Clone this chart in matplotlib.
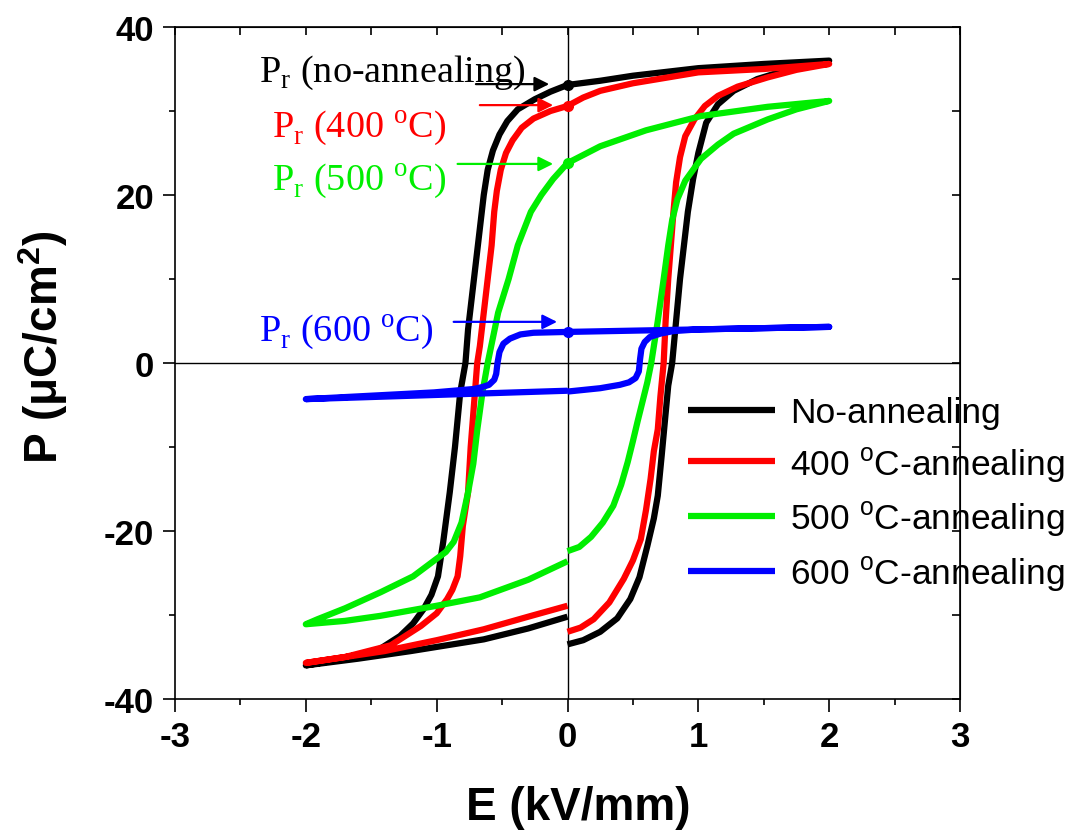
import matplotlib
matplotlib.use("Agg")
import matplotlib.pyplot as plt
from matplotlib.ticker import MultipleLocator

plt.rcParams['font.family'] = ['Liberation Sans', 'DejaVu Sans']
plt.rcParams['axes.unicode_minus'] = False

# loops recorded as: 0 -> +Emax -> -Emax -> 0  (E in kV/mm, P in uC/cm2)
E_none = [0.0, 0.12, 0.25, 0.38, 0.48, 0.55, 0.61, 0.66, 0.69, 0.72, 0.75, 0.77, 0.80, 0.83, 0.86,
          0.89, 0.92, 0.96, 1.0, 1.06, 1.15, 1.27, 1.45, 1.7, 2.0,
          1.5, 1.0, 0.5, 0.25, 0.0, -0.13, -0.25, -0.38, -0.46, -0.52, -0.57, -0.61, -0.64, -0.67,
          -0.70, -0.73, -0.76, -0.78, -0.82, -0.86, -0.9, -0.95, -0.99, -1.04, -1.1, -1.18, -1.28,
          -1.43, -1.7, -2.0,
          -1.6, -1.2, -0.64, -0.3, 0.0]
P_none = [-33.5, -33.0, -32.0, -30.4, -28.1, -25.5, -21.8, -18.5, -15.8, -11.0, -6.0, -2.7, 0.0, 5.0, 10.0,
          14.0, 18.0, 21.9, 25.0, 28.6, 30.8, 32.4, 33.8, 35.0, 36.0,
          35.6, 35.1, 34.2, 33.6, 33.1, 32.3, 31.4, 30.2, 28.8, 27.2, 25.3, 23.0, 20.0, 16.0,
          12.0, 8.0, 4.0, 0.0, -3.5, -10.0, -15.4, -21.3, -25.4, -27.6, -29.3, -31.0, -32.5,
          -34.0, -35.2, -36.0,
          -35.2, -34.3, -32.9, -31.6, -30.2]

E_400 = [0.0, 0.1, 0.2, 0.32, 0.43, 0.5, 0.56, 0.6, 0.635, 0.66, 0.69, 0.71, 0.735, 0.75, 0.77,
         0.79, 0.81, 0.83, 0.86, 0.9, 0.97, 1.05, 1.15, 1.3, 1.53, 1.75, 2.0,
         1.5, 1.0, 0.5, 0.25, 0.12, 0.0, -0.13, -0.26, -0.35, -0.42, -0.47, -0.51, -0.54, -0.56,
         -0.58, -0.61, -0.64, -0.67, -0.69, -0.71, -0.74, -0.76, -0.8, -0.82, -0.84, -0.88, -0.92,
         -1.0, -1.12, -1.35, -1.7, -2.0,
         -1.4, -1.0, -0.64, -0.3, 0.0]
P_400 = [-32.0, -31.5, -30.5, -28.5, -25.7, -23.5, -21.0, -17.5, -13.8, -10.5, -7.9, -4.0, 0.0, 5.0, 10.0,
         14.0, 18.0, 21.5, 24.5, 27.0, 29.0, 30.6, 31.8, 32.9, 34.0, 34.9, 35.6,
         35.0, 34.6, 33.3, 32.4, 31.6, 30.6, 30.0, 29.1, 28.0, 26.5, 25.0, 23.0, 20.5, 18.0,
         14.0, 10.0, 6.0, 2.0, 0.0, -4.0, -10.0, -15.4, -19.4, -23.0, -25.4, -27.0, -28.1,
         -29.8, -31.3, -33.6, -35.0, -35.7,
         -34.3, -33.0, -31.7, -30.2, -28.9]

E_500 = [0.0, 0.09, 0.18, 0.27, 0.35, 0.41, 0.46, 0.5, 0.535, 0.575, 0.61, 0.64, 0.69, 0.735,
         0.77, 0.8, 0.84, 0.9, 1.02, 1.15, 1.27, 1.53, 1.75, 2.0,
         1.53, 1.02, 0.6, 0.25, 0.0, -0.11, -0.2, -0.28, -0.38, -0.45, -0.53, -0.57, -0.61, -0.65,
         -0.69, -0.72, -0.76, -0.81, -0.87, -0.93, -1.0, -1.18, -1.43, -1.7, -1.91, -2.0,
         -1.7, -1.43, -1.0, -0.67, -0.3, 0.0]
P_500 = [-22.4, -21.9, -20.7, -19.0, -17.0, -14.5, -11.8, -9.3, -7.0, -4.5, -2.3, 0.0, 5.0, 10.0,
         14.0, 17.0, 19.5, 21.7, 24.3, 26.0, 27.3, 29.0, 30.2, 31.2,
         30.5, 29.4, 27.7, 25.8, 23.8, 21.9, 20.0, 18.0, 14.0, 10.0, 6.0, 3.0, 0.0, -3.5,
         -8.0, -12.0, -15.4, -19.0, -21.3, -22.5, -23.3, -25.4, -27.3, -29.2, -30.5, -31.1,
         -30.7, -30.1, -28.9, -27.9, -25.8, -23.6]

E_600 = [0.0, 0.25, 0.4, 0.47, 0.52, 0.545, 0.555, 0.565, 0.59, 0.63, 0.71, 0.81, 1.0, 2.0,
         1.0, 0.0, -0.26, -0.36, -0.44, -0.49, -0.52, -0.535, -0.545, -0.56, -0.6, -0.66, -0.72,
         -1.02, -2.0,
         -1.0, 0.0]
P_600 = [-3.4, -3.0, -2.6, -2.3, -1.8, -1.0, 0.5, 1.7, 2.5, 3.1, 3.5, 3.8, 4.0, 4.3,
         4.0, 3.7, 3.6, 3.4, 2.9, 2.3, 1.3, 0.0, -1.3, -2.0, -2.6, -2.9, -3.1,
         -3.5, -4.3,
         -3.8, -3.3]

labels = ['No-annealing', '400 $^\\mathregular{o}$C-annealing',
          '500 $^\\mathregular{o}$C-annealing', '600 $^\\mathregular{o}$C-annealing']
colors = ['black', '#ff0000', '#00ee00', '#0000ff']
Pr = [33.1, 30.6, 23.8, 3.7]
pr_text = ['P$_\\mathregular{r}$ (no-annealing)', 'P$_\\mathregular{r}$ (400 $^\\mathregular{o}$C)',
           'P$_\\mathregular{r}$ (500 $^\\mathregular{o}$C)', 'P$_\\mathregular{r}$ (600 $^\\mathregular{o}$C)']
text_xy = [(-2.36, 33.6), (-2.26, 27.0), (-2.26, 20.7), (-2.36, 2.7)]
arrow_from = [(-0.70, 33.2), (-0.67, 30.7), (-0.84, 23.7), (-0.87, 4.9)]
arrow_to = [(-0.14, 33.2), (-0.11, 30.7), (-0.11, 23.7), (-0.08, 4.9)]

fig = plt.figure(figsize=(10.72, 8.37), dpi=100)
ax = fig.add_axes([175/1072, 1-700/837, (960-175)/1072, (700-28)/837])

ax.axhline(0, color='k', lw=1, zorder=1)
ax.axvline(0, color='k', lw=1, zorder=1)

data = [(E_none, P_none), (E_400, P_400), (E_500, P_500), (E_600, P_600)]
for (e, p), c, lab in zip(data, colors, labels):
    ax.plot(e, p, color=c, lw=4.5, label=lab, zorder=2,
            solid_capstyle='butt', solid_joinstyle='round')

for i in range(4):
    ax.plot(0, Pr[i], 'o', color=colors[i], ms=7, zorder=3)
    ax.annotate('', xy=arrow_to[i], xytext=arrow_from[i],
                arrowprops=dict(arrowstyle='-|>', color=colors[i], lw=1.6,
                                mutation_scale=22, shrinkA=0, shrinkB=0), zorder=4)
    ax.text(text_xy[i][0], text_xy[i][1], pr_text[i], color=colors[i],
            family=['Liberation Serif', 'DejaVu Serif'], fontsize=27.5, va='baseline', ha='left')

ax.set_xlim(-3, 3)
ax.set_ylim(-40, 40)
ax.xaxis.set_major_locator(MultipleLocator(1))
ax.xaxis.set_minor_locator(MultipleLocator(0.5))
ax.yaxis.set_major_locator(MultipleLocator(20))
ax.yaxis.set_minor_locator(MultipleLocator(10))
ax.tick_params(which='major', direction='out', length=9, width=1.2, labelsize=25, pad=6)
ax.tick_params(which='minor', direction='out', length=4, width=1.2)
for t in ax.get_xticklabels() + ax.get_yticklabels():
    t.set_fontweight('bold')
for s in ax.spines.values():
    s.set_linewidth(1.2)

# mirrored ticks pointing inward on top and right
top = ax.secondary_xaxis('top')
top.xaxis.set_major_locator(MultipleLocator(0.5))
top.tick_params(direction='in', length=6, width=1.2, labeltop=False)
right = ax.secondary_yaxis('right')
right.yaxis.set_major_locator(MultipleLocator(10))
right.tick_params(direction='in', length=6, width=1.2, labelright=False)

ax.set_xlabel('E (kV/mm)', fontsize=33, fontweight='bold')
ax.set_ylabel('P (\u03bcC/cm$^\\mathregular{2}$)', fontsize=33, fontweight='bold')
ax.xaxis.set_label_coords((578-175)/785, (700-786)/672)
ax.yaxis.set_label_coords((70-175)/785, (700-347)/672)

fig.legend(loc='upper left', bbox_to_anchor=(688/1072, 1-397/837), frameon=False,
           fontsize=25.5, handlelength=2.45, handletextpad=0.42, labelspacing=0.42,
           borderpad=0, borderaxespad=0)

fig.savefig('out.png', dpi=100)
